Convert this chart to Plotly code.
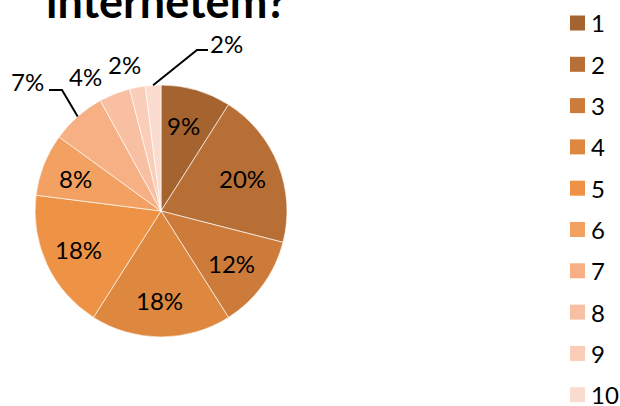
import math
import plotly.graph_objects as go

# ---- data ----
categories = ["1", "2", "3", "4", "5", "6", "7", "8", "9", "10"]
values = [9, 20, 12, 18, 18, 8, 7, 4, 2, 2]
colors = ["#A5632F", "#B86F35", "#CC7B3B", "#DD873F", "#EE9346", "#F3A063",
          "#F6B083", "#F8BFA2", "#F9CDB8", "#FADBD0"]
title_text = "internetem?"

W, H = 620, 406
CX, CY, R = 161, 211, 126          # pie centre / radius in pixels
FONT = "Lato"
LABEL_SIZE = 24

def X(px):
    return px / W

def Y(py):
    return 1 - py / H

total = sum(values)
pcts = [round(v * 100 / total) for v in values]
labels_txt = [f"{p}%" for p in pcts]

# mid angles (deg, clockwise from 12 o'clock)
mids = []
acc = 0
for v in values:
    mids.append((acc + v / 2) / total * 360)
    acc += v

def polar(r, ang):
    a = math.radians(ang)
    return CX + r * math.sin(a), CY - r * math.cos(a)

fig = go.Figure(go.Pie(
    labels=categories, values=values, sort=False, direction="clockwise",
    rotation=0, textinfo="none", hoverinfo="label+percent",
    marker=dict(colors=colors, line=dict(color="rgba(255,255,255,0.8)", width=0.8)),
    domain=dict(x=[X(CX - R), X(CX + R)], y=[Y(CY + R), Y(CY - R)]),
    showlegend=False,
))

annotations = []
shapes = []

# inside labels (slices 1-6)
inside_r = 0.71 * R
for i in range(6):
    px, py = polar(inside_r, mids[i])
    annotations.append(dict(x=X(px - 2), y=Y(py), xref="paper", yref="paper",
                            text=labels_txt[i], showarrow=False,
                            xanchor="center", yanchor="middle",
                            font=dict(family=FONT, size=LABEL_SIZE, color="#000")))

# outside labels (slices 7-10) - placement
outside_pos = {6: (27, 82), 7: (85, 76), 8: (125, 65), 9: (226, 44)}
leaders = {6: [(62, 90), (49, 90)], 9: [(197, 50), (208, 50)]}
for i, (lx, ly) in outside_pos.items():
    annotations.append(dict(x=X(lx), y=Y(ly), xref="paper", yref="paper",
                            text=labels_txt[i], showarrow=False,
                            xanchor="center", yanchor="middle",
                            font=dict(family=FONT, size=LABEL_SIZE, color="#000")))
    if i in leaders:
        sx, sy = polar(R, mids[i])
        pts = [(sx, sy)] + leaders[i]
        path = "M " + " L ".join(f"{X(a):.5f},{Y(b):.5f}" for a, b in pts)
        shapes.append(dict(type="path", path=path, xref="paper", yref="paper",
                           line=dict(color="#000", width=2)))

# legend (manual)
leg_y0, leg_dy = 23, 41.3
for i, cat in enumerate(categories):
    cy = leg_y0 + i * leg_dy
    shapes.append(dict(type="rect", xref="paper", yref="paper",
                       x0=X(570), x1=X(585), y0=Y(cy + 7.5), y1=Y(cy - 7.5),
                       fillcolor=colors[i], line=dict(width=0)))
    annotations.append(dict(x=X(590), y=Y(cy), xref="paper", yref="paper",
                            text=cat, showarrow=False, xanchor="left",
                            yanchor="middle", borderpad=0,
                            font=dict(family=FONT, size=LABEL_SIZE, color="#000")))

# title (partially cut at top)
annotations.append(dict(x=X(166), y=Y(30), xref="paper", yref="paper",
                        text=f"<b>{title_text}</b>", showarrow=False,
                        xanchor="center", yanchor="bottom",
                        font=dict(family=FONT, size=45, color="#000")))

fig.update_layout(width=W, height=H, margin=dict(l=0, r=0, t=0, b=0),
                  paper_bgcolor="white", plot_bgcolor="white",
                  annotations=annotations, shapes=shapes)

fig.write_html("out.html", config={"displayModeBar": False},
               post_script="document.body.style.margin='0';document.body.style.overflow='hidden';")
